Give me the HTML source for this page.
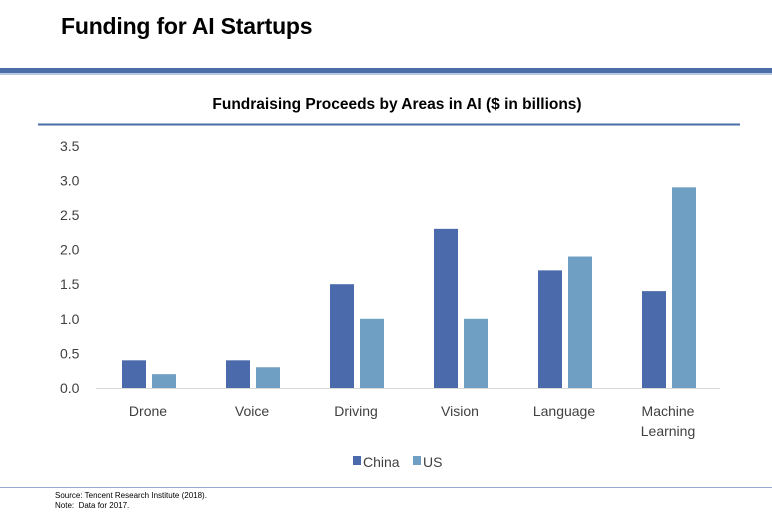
<!DOCTYPE html>
<html><head><meta charset="utf-8"><style>
body{margin:0;width:772px;height:522px;background:#fff;font-family:"Liberation Sans",sans-serif;overflow:hidden;position:relative}
.abs{position:absolute}
</style></head><body>
<div class="abs" style="left:61px;top:13px;font-size:23px;font-weight:bold;color:#000;letter-spacing:-0.2px">Funding for AI Startups</div>
<div class="abs" style="left:0;top:68px;width:772px;height:5px;background:#4a6ea8"></div>
<div class="abs" style="left:0;top:73px;width:772px;height:2px;background:#b8c8e0"></div>
<svg class="abs" style="left:0;top:0" width="772" height="522">
<text x="397" y="109" text-anchor="middle" font-size="15.5" font-weight="bold" fill="#000">Fundraising Proceeds by Areas in AI ($ in billions)</text>
<line x1="38" y1="124.5" x2="740" y2="124.5" stroke="#4a6ea8" stroke-width="2"/>
<g id="g"></g>
</svg>
<div class="abs" style="left:0;top:487px;width:772px;height:1px;background:#9aaad0"></div>
<div class="abs" style="left:55px;top:491px;font-size:8px;line-height:10px;color:#000">Source: Tencent Research Institute (2018).<br>Note:&nbsp; Data for 2017.</div>
<script>
const categories=["Drone","Voice","Driving","Vision","Language","Machine|Learning"];
const china=[0.4,0.4,1.5,2.3,1.7,1.4];
const us=[0.2,0.3,1.0,1.0,1.9,2.9];
const ticks=[0,0.5,1,1.5,2,2.5,3,3.5];
const tickLabels=["0.0","0.5","1.0","1.5","2.0","2.5","3.0","3.5"];
const NS="http://www.w3.org/2000/svg";
const g=document.getElementById('g');
const y=v=>388-v*69.2;
const x0=96,band=104;
function mk(t,a){const e=document.createElementNS(NS,t);for(const k in a)e.setAttribute(k,a[k]);g.appendChild(e);return e;}
const ax=mk('line',{x1:96,x2:720,y1:388.5,y2:388.5,stroke:'#d9d9d9','stroke-width':1});


ticks.forEach((t,i)=>{const e=mk('text',{x:60,y:y(t)+5,'font-size':14,fill:'#404040'});e.textContent=tickLabels[i];

});
categories.forEach((c,i)=>{const cx=x0+band*(i+0.5);
const b1=mk('rect',{x:cx-26,y:y(china[i]),width:24,height:388-y(china[i]),fill:'#4a6aab'});


const b2=mk('rect',{x:cx+4,y:y(us[i]),width:24,height:388-y(us[i]),fill:'#6fa0c4'});


c.split('|').forEach((ln,j)=>{const t=mk('text',{x:cx,y:416+j*20,'text-anchor':'middle','font-size':14,fill:'#404040'});t.textContent=ln;

});
});
const l1=mk('rect',{x:353,y:456,width:8,height:9,fill:'#4a6aab'});


const t1=mk('text',{x:363,y:467,'font-size':14,fill:'#404040'});t1.textContent='China';


const l2=mk('rect',{x:413,y:456,width:8,height:9,fill:'#6fa0c4'});


const t2=mk('text',{x:423,y:467,'font-size':14,fill:'#404040'});t2.textContent='US';


</script>
</body></html>
